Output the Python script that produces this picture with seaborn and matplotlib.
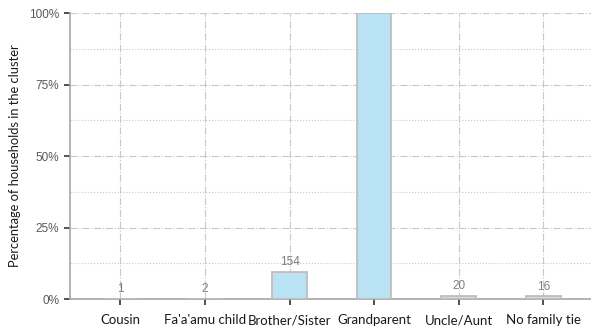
import matplotlib
matplotlib.use("Agg")
import matplotlib.pyplot as plt
import seaborn as sns
import pandas as pd
from matplotlib.ticker import MultipleLocator, PercentFormatter

categories = ["Cousin", "Fa'a'amu child", "Brother/Sister", "Grandparent", "Uncle/Aunt", "No family tie"]
percentages = [0.1, 0.1, 9.5, 100.0, 1.2, 1.0]
counts = ["1", "2", "154", "", "20", "16"]

df = pd.DataFrame({"tie": categories, "pct": percentages, "n": counts})

sns.set_style("white")
plt.rcParams["font.family"] = ["Liberation Sans", "DejaVu Sans"]

fig = plt.figure(figsize=(5.91, 3.29), dpi=100)
ax = fig.add_axes([0.118, 0.091, 0.887, 0.869])

sns.barplot(data=df, x="tie", y="pct", color="#B9E3F5", edgecolor="#BEBEBE",
            linewidth=1.3, width=0.41, saturation=1, ax=ax, zorder=3)

for i, (p, n) in enumerate(zip(percentages, counts)):
    if n:
        ax.text(i, p + 1.2, n, ha="center", va="bottom", fontsize=8.5, color="#7F7F7F", zorder=4)

ax.set_ylim(0, 100)
ax.set_xlim(-0.6, 5.6)
ax.yaxis.set_major_locator(MultipleLocator(25))
ax.yaxis.set_minor_locator(MultipleLocator(12.5))
ax.yaxis.set_major_formatter(PercentFormatter(decimals=0))

ax.grid(which="major", axis="both", color="#C8C8C8", linestyle="-.", linewidth=0.8, zorder=0)
ax.grid(which="minor", axis="y", color="#C8C8C8", linestyle=":", linewidth=0.8, zorder=0)
ax.set_axisbelow(True)

for s in ["top", "right"]:
    ax.spines[s].set_visible(False)
for s in ["left", "bottom"]:
    ax.spines[s].set_color("#A6A6A6")
    ax.spines[s].set_linewidth(1.2)

ax.tick_params(axis="y", which="major", length=4, width=1.2, color="#333333", labelsize=8.5, labelcolor="#595959")
ax.tick_params(axis="y", which="minor", length=0)
ax.tick_params(axis="x", length=4, width=1.2, color="#333333", labelsize=9.5, labelcolor="#1A1A1A", pad=7)
ax.tick_params(left=True, bottom=True)
for lbl in ax.get_xticklabels():
    lbl.set_family(["Lato", "DejaVu Sans"])

ax.set_xlabel("")
ax.set_ylabel("Percentage of households in the cluster", fontsize=9.3, color="#1A1A1A",
              labelpad=6, family=["Lato", "DejaVu Sans"])

fig.savefig("out.png", dpi=100)
plt.close(fig)
